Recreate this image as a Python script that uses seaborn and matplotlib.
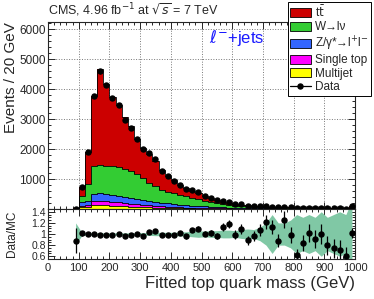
import numpy as np
import pandas as pd
import seaborn as sns
import matplotlib
matplotlib.use("Agg")
import matplotlib.pyplot as plt
from matplotlib.patches import Patch
from matplotlib.lines import Line2D
from matplotlib.ticker import MultipleLocator, FuncFormatter

# bin edges: 20 GeV bins from 80 to 1000 GeV
edges = list(range(80, 1001, 20))
centers = np.array(edges[:-1]) + 10

# MC components (events per bin)
ttbar = [4, 290, 1077, 2317, 3220, 2746, 2312, 2078, 1736, 1489,
         1185, 1035, 953, 830, 650, 530, 445, 333, 269, 240,
         205, 150, 135, 115, 90, 65, 50, 40, 35, 31,
         26, 24, 23, 22, 20, 18, 17, 16, 15, 14,
         13, 12, 12, 11, 10, 70]
wjets = [5, 200, 553, 950, 930, 934, 953, 946, 933, 903,
         830, 720, 612, 522, 441, 384, 358, 322, 292, 247,
         221, 193, 155, 124, 103, 86, 72, 62, 51, 45,
         38, 33, 29, 24, 22, 19, 16, 15, 13, 12,
         10, 9, 8, 8, 7, 21]
zjets = [3, 130, 130, 240, 265, 250, 240, 225, 215, 200,
         185, 165, 150, 135, 120, 108, 97, 87, 78, 70,
         62, 55, 48, 42, 37, 32, 28, 25, 22, 19,
         17, 15, 13, 12, 11, 10, 9, 8, 7, 6,
         6, 5, 5, 4, 4, 12]
single_top = [2, 45, 70, 140, 150, 140, 130, 118, 106, 95,
              85, 75, 66, 58, 51, 45, 39, 34, 30, 26,
              22, 19, 16, 14, 12, 10, 9, 8, 7, 6,
              5, 5, 4, 4, 3, 3, 3, 2, 2, 2,
              2, 2, 1, 1, 1, 4]
multijet = [3, 60, 80, 120, 125, 120, 110, 100, 90, 80,
            70, 60, 52, 45, 38, 33, 28, 24, 20, 17,
            15, 13, 11, 10, 8, 7, 6, 5, 5, 4,
            4, 3, 3, 3, 2, 2, 2, 2, 2, 1,
            1, 1, 1, 1, 1, 3]
data = [15, 732, 1910, 3767, 4596, 4148, 3708, 3467, 2988, 2698,
        2355, 1993, 1888, 1670, 1268, 1089, 943, 808, 658, 642,
        575, 432, 372, 296, 281, 236, 163, 153, 106, 101,
        96, 97, 81, 57, 73, 51, 29, 36, 40, 32,
        32, 23, 20, 18, 14, 112]
# MC uncertainty (relative) for the ratio band
band_err = [0.20, 0.03, 0.02, 0.02, 0.02, 0.02, 0.02, 0.02, 0.02, 0.02,
            0.02, 0.025, 0.025, 0.03, 0.03, 0.03, 0.03, 0.035, 0.04, 0.05,
            0.06, 0.05, 0.06, 0.06, 0.07, 0.07, 0.06, 0.08, 0.09, 0.08,
            0.12, 0.20, 0.35, 0.20, 0.20, 0.25, 0.35, 0.30, 0.35, 0.30,
            0.40, 0.30, 0.35, 0.40, 0.35, 0.60]

labels = ["t$\\bar{\\mathrm{t}}$", "W\u2192l\u03bd",
          "Z/\u03b3*\u2192l$^{+}$l$^{-}$", "Single top", "Multijet"]
colors = ["#cc0000", "#33cc33", "#3366ff", "#ff00ff", "#ffff00"]
band_color = "#80c8a5"
components = [ttbar, wjets, zjets, single_top, multijet]

rows = []
for lab, vals in zip(labels, components):
    for c, v in zip(centers, vals):
        rows.append({"mass": float(c), "events": float(v), "process": lab})
df = pd.DataFrame(rows)

mc_total = np.sum(np.array(components), axis=0)
data = np.array(data)
ratio = data / mc_total
ratio_err = np.sqrt(data) / mc_total

sns.set_style("ticks")
plt.rcParams['font.family'] = ['Liberation Sans', 'DejaVu Sans']
plt.rcParams['mathtext.fontset'] = 'dejavusans'

fig = plt.figure(figsize=(3.74, 2.99), dpi=100)
ax = fig.add_axes([48 / 374, 90 / 299, 307 / 374, 187 / 299])
axr = fig.add_axes([48 / 374, 40 / 299, 307 / 374, 50 / 299], sharex=ax)

sns.histplot(data=df, x="mass", weights="events", hue="process", hue_order=labels,
             palette=colors, bins=edges, multiple="stack", element="step",
             fill=True, alpha=1, linewidth=0, legend=False, ax=ax)

# black outline on top of each stacked component
cum = np.zeros(len(centers))
for vals in components[::-1]:
    cum = cum + np.array(vals)
    ax.stairs(cum, edges, color="black", lw=0.6, zorder=3)

ax.errorbar(centers, data, yerr=np.sqrt(data), fmt="o", color="black",
            ms=3.6, elinewidth=0.9, capsize=0, zorder=5)

ax.set_xlim(0, 1000)
ax.set_ylim(0, 6250)
ax.yaxis.set_major_locator(MultipleLocator(1000))
ax.yaxis.set_minor_locator(MultipleLocator(200))
ax.xaxis.set_major_locator(MultipleLocator(100))
ax.xaxis.set_minor_locator(MultipleLocator(20))
ax.yaxis.set_major_formatter(FuncFormatter(lambda v, p: "" if v == 0 else "%d" % v))
ax.grid(True, which="major", ls=":", color="#777777", lw=0.7)
ax.tick_params(which="both", direction="in", top=True, right=True, labelbottom=False,
               labelsize=8.5, pad=1.5)
ax.tick_params(which="major", length=5, width=0.7)
ax.tick_params(which="minor", length=2.5, width=0.7)
ax.set_xlabel("")
ax.set_ylabel("")
for s in ax.spines.values():
    s.set_linewidth(0.8)

fig.text(11.5 / 374, 1 - 22 / 299, "Events / 20 GeV", rotation=90, fontsize=11,
         ha="center", va="top")
ax.text(0.525, 0.915, "$\\ell^{-}$+jets", transform=ax.transAxes, color="#1a1aff",
        fontsize=12, va="center", ha="left")
fig.text(48 / 374, 1 - 10 / 299, "CMS, 4.96 fb$^{-1}$ at $\\sqrt{s}$ = 7 TeV",
         fontsize=9, va="center", ha="left")

# ratio panel
axr.fill_between(centers, 1 - np.array(band_err), 1 + np.array(band_err),
                 color=band_color, lw=0)
axr.errorbar(centers, ratio, yerr=ratio_err, fmt="o", color="black",
             ms=3.6, elinewidth=0.9, capsize=0, zorder=5)
axr.set_ylim(0.55, 1.45)
axr.set_yticks([0.6, 0.8, 1.0, 1.2, 1.4])
axr.set_yticklabels(["0.6", "0.8", "1", "1.2", "1.4"])
axr.yaxis.set_minor_locator(MultipleLocator(0.05))
axr.tick_params(which="both", direction="in", top=True, right=True,
                labelsize=7.5, pad=1.5)
axr.tick_params(axis="x", labelsize=8, pad=3)
axr.tick_params(which="major", length=5, width=0.7)
axr.tick_params(which="minor", length=2.5, width=0.7)
axr.set_xlabel("Fitted top quark mass (GeV)", fontsize=12, loc="right")
axr.xaxis.set_label_coords(1.0, -0.34)
axr.set_ylabel("Data/MC", fontsize=8.5)
axr.yaxis.set_label_coords(-0.099, 0.5)
for s in axr.spines.values():
    s.set_linewidth(0.8)

handles = [Patch(facecolor=c, edgecolor="black", linewidth=0.6) for c in colors]
handles.append(Line2D([0], [0], color="black", marker="o", ms=3.6, lw=0.9))
leg = fig.legend(handles, labels + ["Data"], loc="upper right",
                 bbox_to_anchor=(371 / 374, 1 - 2 / 299), fontsize=8.5,
                 frameon=True, fancybox=False, edgecolor="black", framealpha=1,
                 borderpad=0.2, labelspacing=0.12, handlelength=1.8,
                 handleheight=0.8, handletextpad=0.35, borderaxespad=0)
leg.get_frame().set_linewidth(0.7)

fig.savefig("out.png", dpi=100)
